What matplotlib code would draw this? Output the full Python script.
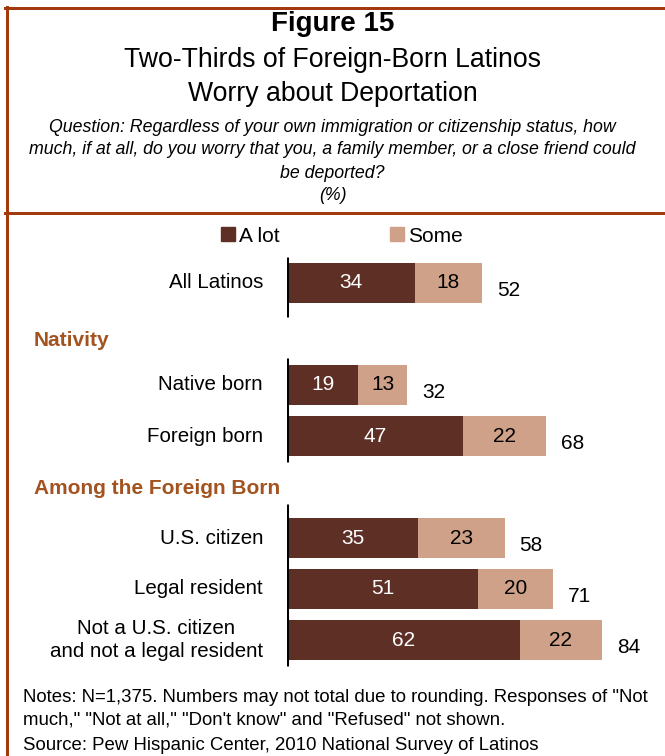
import matplotlib
matplotlib.use("Agg")
import matplotlib.pyplot as plt
from matplotlib.lines import Line2D
from matplotlib.patches import Patch
import matplotlib.transforms as mtransforms

plt.rcParams['font.family'] = ['Liberation Sans', 'DejaVu Sans']

# Survey data (%)
categories = ["All Latinos", "Native born", "Foreign born",
              "U.S. citizen", "Legal resident",
              "Not a U.S. citizen\nand not a legal resident"]
a_lot = [34, 19, 47, 35, 51, 62]
some = [18, 13, 22, 23, 20, 22]
totals = [52, 32, 68, 58, 71, 84]
series_names = ["A lot", "Some"]
sections = ["Nativity", "Among the Foreign Born"]

# Row layout (one unit = one bar slot)
row_pos = [0, 2, 3, 5, 6, 7]
section_pos = [1.12, 4.02]
axis_segments = [(-0.51, 0.67), (1.47, 3.50), (4.33, 7.51)]

DARK = "#5e2f25"
LIGHT = "#d0a189"
RUST = "#a3390d"
HEAD = "#a3531f"

W, H = 665, 756
fig = plt.figure(figsize=(W / 100, H / 100), dpi=100)

def fy(py):
    return 1 - py / H

def fx(px):
    return px / W

# bar axes: x from 0 to 100 across 375 px starting at x=287
ylo, yhi = -0.7, 7.7
px_per_row = 51.0
top_px = 283 + ylo * px_per_row
bot_px = 283 + yhi * px_per_row
ax = fig.add_axes([fx(287), fy(bot_px), 375 / W, (bot_px - top_px) / H])
ax.set_xlim(0, 100)
ax.set_ylim(yhi, ylo)
ax.axis("off")

bh = 0.78
ax.barh(row_pos, a_lot, height=bh, color=DARK, label=series_names[0])
ax.barh(row_pos, some, left=a_lot, height=bh, color=LIGHT, label=series_names[1])

for y, a, s, t in zip(row_pos, a_lot, some, totals):
    ax.text(a / 2, y, str(a), ha="center", va="center", color="white", fontsize=15)
    ax.text(a + s / 2, y, str(s), ha="center", va="center", color="black", fontsize=15)
    ax.text(a + s + 4.0, y + 0.14, str(t), ha="left", va="center", color="black", fontsize=15)

for y0, y1 in axis_segments:
    ax.plot([0, 0], [y0, y1], color="black", lw=2.2, solid_capstyle="butt")

lab_tr = mtransforms.blended_transform_factory(fig.transFigure, ax.transData)
for y, c in zip(row_pos, categories):
    ax.text(fx(263), y, c, transform=lab_tr, ha="right", va="center",
            multialignment="center", fontsize=14.8, linespacing=1.3)
for y, s in zip(section_pos, sections):
    ax.text(fx(34), y, s, transform=lab_tr, ha="left", va="center",
            fontsize=15, fontweight="bold", color=HEAD)

handles = [Patch(color=DARK), Patch(color=LIGHT)]
fig.legend(handles, series_names, loc="center", bbox_to_anchor=(fx(342), fy(236)),
           ncol=2, frameon=False, fontsize=15, handlelength=0.65, handleheight=0.65,
           handletextpad=0.2, columnspacing=5.3, borderpad=0)

# header
fig.text(0.5, fy(24), "Figure 15", ha="center", va="center", fontsize=20, fontweight="bold")
fig.text(0.5, fy(60), "Two-Thirds of Foreign-Born Latinos", ha="center", va="center", fontsize=19.2)
fig.text(0.5, fy(94), "Worry about Deportation", ha="center", va="center", fontsize=19.2)
question = ["Question: Regardless of your own immigration or citizenship status, how",
            "much, if at all, do you worry that you, a family member, or a close friend could",
            "be deported?", "(%)"]
for py, line in zip([127, 150, 173, 196], question):
    fig.text(0.5, fy(py), line, ha="center", va="center", fontsize=12.8, style="italic")

notes = ['Notes: N=1,375. Numbers may not total due to rounding. Responses of "Not',
         'much," "Not at all," "Don\'t know" and "Refused" not shown.',
         'Source: Pew Hispanic Center, 2010 National Survey of Latinos']
for py, line in zip([697, 720, 746], notes):
    fig.text(fx(23), fy(py), line, ha="left", va="center", fontsize=13.4)

# frame lines
lw = 3 * 72 / 100
fig.add_artist(Line2D([fx(5), 1], [fy(8), fy(8)], color=RUST, lw=lw))
fig.add_artist(Line2D([fx(5), 1], [fy(212.5), fy(212.5)], color=RUST, lw=lw))
fig.add_artist(Line2D([fx(6.5), fx(6.5)], [fy(6.5), 0], color=RUST, lw=lw))

fig.savefig("out.png", dpi=100)
